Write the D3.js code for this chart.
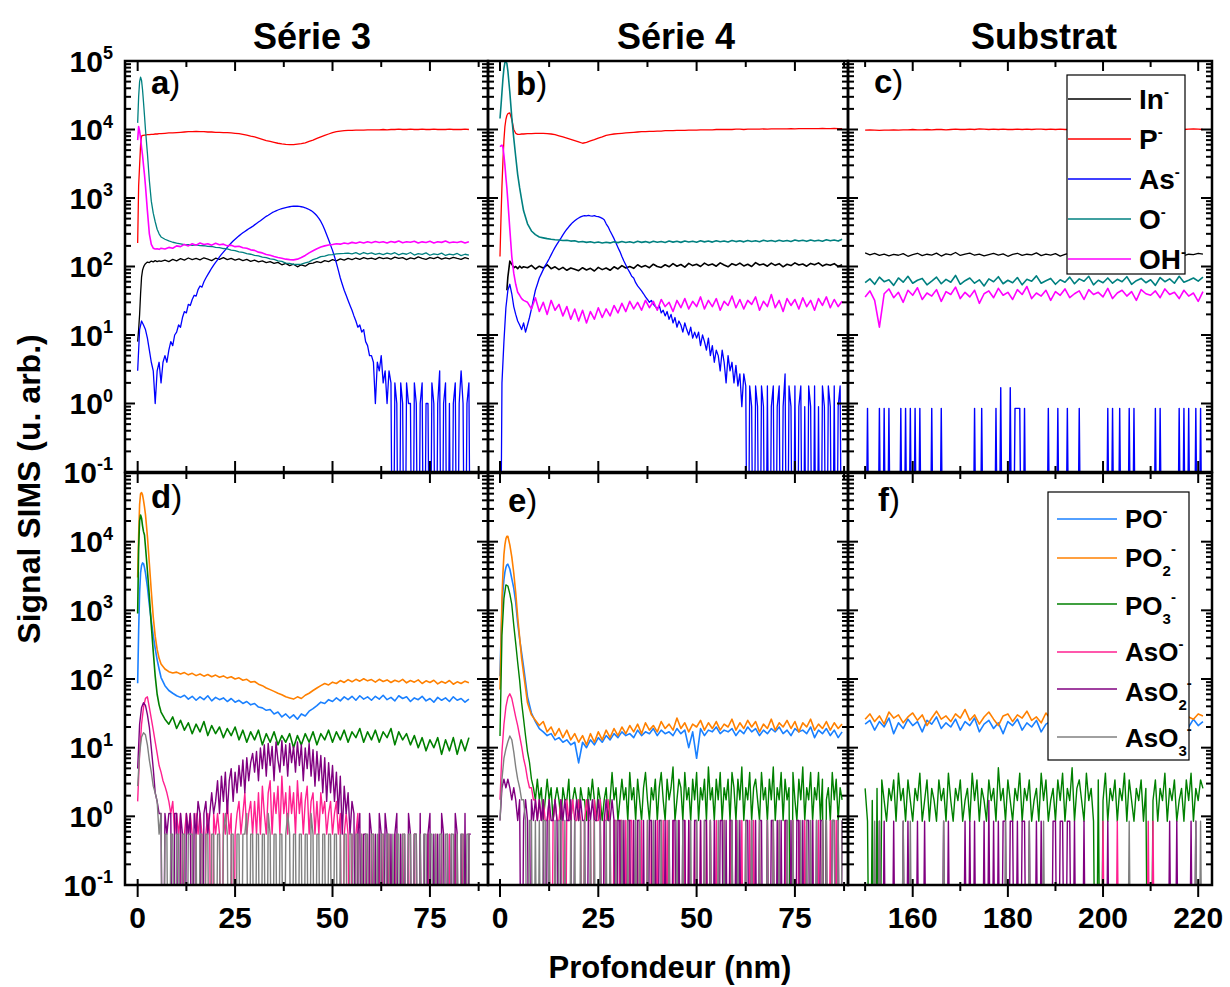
<!DOCTYPE html>
<html>
<head>
<meta charset="utf-8">
<script src="https://cdn.jsdelivr.net/npm/d3@7"></script>
<style>
  body { margin: 0; background: #fff; }
  text { font-family: "Liberation Sans", Arial, Helvetica, sans-serif; }
</style>
</head>
<body>
<svg id="chart" width="1230" height="987"></svg>
<script>
// ---- depth grids (nm) ----
// finer sampling near the surface where the oxide peaks sit
var depthSurface = [0, 0.25, 0.5, 0.75, 1, 1.25, 1.5, 1.75, 2, 2.5, 3, 3.5, 4, 4.5, 5, 5.5, 6];
var depthA = depthSurface.concat(d3.range(7, 86));   // série 3 : 0 .. 85 nm
var depthB = depthSurface.concat(d3.range(7, 88));   // série 4 : 0 .. 87 nm
var depthSub = d3.range(150, 222);                   // substrat : 150 .. 221 nm
// half-nm grids for the low count channels
var stepA = d3.range(0, 86, 0.5);
var stepB = d3.range(0, 87.5, 0.5);
var stepSub = d3.range(150, 221.5, 0.5);

// count units (one detected ion) read from the quantised levels
var unitC = 0.85, unitD = 0.55, unitE = 0.87, unitF = 0.85;

// ---- a) Série 3 ----
var inA = [8, 12, 20, 40, 70, 88, 98, 105, 110, 116, 114, 120, 117, 122, 118, 121, 119,
  124, 118, 127, 121, 130, 124, 133, 126, 131, 125,
  134, 128, 122, 132, 127, 135, 126, 131, 124, 129,
  122, 127, 119, 124, 117, 121, 114, 118, 111, 115,
  106, 111, 103, 108, 99, 106, 101, 110, 112, 118,
  114, 122, 118, 126, 121, 129, 124, 131, 126, 133,
  127, 135, 129, 133, 127, 136, 130, 134, 128, 137,
  131, 135, 126, 134, 129, 138, 131, 127, 135, 130,
  137, 128, 134, 129, 136, 131, 127, 135, 129];
var pA = [220, 1500, 3000, 6000, 8000, 8200, 8200, 8300, 8300, 8400, 8400, 8500, 8500, 8600, 8600, 8700, 8700,
  8800, 8900, 8900, 9000, 9100, 9200, 9300, 9300, 9400, 9300,
  9300, 9200, 9200, 9100, 9100, 9000, 9000, 8900, 8800, 8700,
  8500, 8300, 8000, 7800, 7500, 7200, 6900, 6700, 6500, 6300,
  6150, 6050, 6000, 6000, 6100, 6200, 6400, 6700, 7000, 7400,
  7800, 8200, 8600, 9000, 9300, 9500, 9600, 9700, 9700, 9800,
  9800, 9800, 9900, 9900, 9900, 9900, 10000, 9900, 10000, 10000,
  10100, 10000, 10000, 10100, 10000, 10000, 10100, 10000, 10000, 10100,
  10000, 10000, 10000, 10100, 10000, 10000, 10000, 10100, 10000];
var oA = [12500, 30000, 50000, 58000, 52000, 38000, 25000, 16000, 10000, 4500, 1800, 900, 600, 450, 350, 300, 270,
  250, 236, 226, 219, 214, 209, 208, 204, 207, 202,
  201, 197, 196, 190, 189, 183, 181, 174, 171, 164,
  161, 154, 151, 145, 143, 137, 135, 129, 127, 121,
  119, 112, 111, 107, 107, 108, 113, 117, 126, 131,
  139, 142, 148, 149, 153, 154, 155, 157, 153, 159,
  150, 160, 153, 158, 150, 156, 149, 157, 152, 159,
  148, 155, 151, 160, 147, 154, 150, 158, 146, 153,
  149, 157, 145, 152, 148, 155, 144, 151, 147];
var ohA = [7000, 11000, 9500, 7500, 5500, 4200, 3000, 2200, 1500, 650, 300, 210, 185, 180, 182, 178, 185,
  180, 190, 185, 200, 195, 210, 200, 215, 205, 220,
  210, 215, 205, 218, 208, 212, 200, 205, 195, 198,
  188, 185, 175, 172, 162, 158, 150, 146, 140, 135,
  132, 128, 126, 125, 128, 135, 145, 158, 170, 182,
  192, 200, 206, 210, 215, 212, 220, 215, 225, 218,
  228, 220, 230, 222, 232, 224, 230, 220, 232, 225,
  235, 222, 230, 226, 234, 220, 229, 224, 233, 221,
  230, 225, 235, 222, 228, 224, 232, 220, 230];
var asA = [3, 12, 16, 14, 12, 9, 6, 4, 3, 1, 3, 4, 2, 4, 5, 4, 6, 8, 7, 10,
  11, 14, 13, 18, 22, 21, 28, 27, 33, 38, 37, 46, 52, 50, 60, 68, 76, 85, 95, 105,
  115, 125, 138, 150, 162, 175, 190, 205, 220, 235, 250, 265, 280, 295, 310, 325, 340, 355, 370, 385,
  405, 425, 445, 465, 490, 515, 540, 560, 585, 610, 630, 650, 668, 685, 700, 712, 725, 735, 745, 752,
  758, 760, 758, 752, 745, 735, 720, 700, 680, 655, 625, 590, 550, 505, 455, 400, 345, 290, 245, 205,
  172, 140, 112, 88, 68, 55, 45, 38, 32, 27, 23, 19, 16, 13, 14, 11, 12, 8, 7, 5,
  5, 4, 1, 4, 3, 5, 2, 3, 1, 3, 2, 0, 2, 1, 0, 2, 1, 0, 2, 1,
  1, 0, 2, 1, 0, 1, 2, 0, 1, 1, 0, 2, 1, 0, 1, 3, 0, 1, 2, 0,
  1, 0, 1, 2, 0, 1, 3, 1, 0, 1, 2, 0];

// ---- b) Série 4 ----
var inB = [null, null, null, null, null, null, null, 45, 70, 120, 108, 96, 100, 93, 101, 95, 99,
  96, 104, 92, 101, 95, 106, 93, 99, 90, 97,
  88, 95, 91, 87, 96, 89, 94, 86, 97, 90,
  95, 88, 99, 92, 103, 95, 100, 94, 106, 98,
  103, 96, 108, 100, 97, 106, 99, 110, 101, 107,
  98, 111, 103, 108, 100, 112, 104, 109, 101, 113,
  105, 99, 110, 104, 112, 102, 108, 100, 114, 105,
  109, 101, 112, 104, 110, 99, 108, 103, 113, 105,
  109, 101, 111, 106, 113, 102, 108, 104, 110, 100, 106];
var pB = [140, 500, 1500, 3500, 7000, 11000, 14000, 16000, 17000, 17500, 14000, 10000, 8800, 8500, 8500, 8600, 8600,
  8700, 8700, 8800, 8800, 8800, 8700, 8600, 8400, 8100, 7800,
  7500, 7200, 6900, 6600, 6300, 6500, 6800, 7100, 7500, 7800,
  8200, 8400, 8600, 8700, 8800, 8900, 9000, 9100, 9200, 9300,
  9300, 9400, 9400, 9500, 9500, 9600, 9600, 9600, 9700, 9700,
  9700, 9800, 9800, 9800, 9900, 9900, 9900, 9900, 10000, 10000,
  10000, 10000, 10000, 10100, 10100, 10000, 10100, 10100, 10100, 10100,
  10200, 10100, 10200, 10200, 10200, 10200, 10200, 10300, 10200, 10300,
  10300, 10300, 10300, 10300, 10300, 10400, 10300, 10300, 10400, 10300, 10300];
var oB = [14500, 22000, 35000, 55000, 78000, 95000, 100000, 92000, 72000, 35000, 15000, 7500, 4000, 2200, 1400, 950, 650,
  420, 330, 292, 270, 262, 255, 250, 246, 244, 240,
  242, 235, 238, 228, 232, 225, 230, 222, 228, 220,
  226, 221, 229, 223, 231, 224, 230, 222, 233, 225,
  231, 223, 234, 226, 232, 224, 235, 227, 233, 225,
  236, 228, 234, 226, 237, 229, 235, 227, 238, 230,
  236, 228, 239, 231, 237, 229, 240, 232, 238, 230,
  241, 233, 239, 231, 242, 234, 240, 232, 243, 235,
  241, 233, 244, 236, 242, 234, 245, 237, 243, 235, 250];
var ohB = [5600, 5800, 5900, 5500, 4200, 3000, 2000, 1400, 900, 350, 140, 80, 55, 42, 38, 34, 32,
  30, 24, 35, 22, 30, 20, 32, 23, 28, 19,
  26, 17, 24, 16, 23, 15, 22, 17, 25, 18,
  24, 19, 27, 21, 29, 22, 31, 24, 30, 23,
  32, 25, 31, 23, 33, 26, 30, 22, 32, 25,
  34, 24, 31, 26, 36, 24, 32, 26, 34, 23,
  31, 27, 37, 25, 33, 24, 32, 28, 36, 23,
  31, 26, 39, 25, 32, 22, 34, 27, 33, 24,
  35, 26, 32, 23, 34, 27, 36, 25, 33, 26, 31];
var asB = [0, 2, 8, 25, 45, 55, 40, 26, 20, 16, 14, 12, 15, 11, 14, 18, 24, 33, 45, 55,
  68, 78, 90, 103, 115, 130, 148, 168, 190, 212, 235, 260, 290, 320, 350, 380, 410, 440, 465, 490,
  510, 530, 545, 552, 548, 556, 550, 545, 552, 540, 535, 520, 505, 480, 420, 380, 330, 290, 255, 220,
  190, 165, 140, 120, 105, 92, 82, 72, 68, 58, 52, 48, 44, 40, 36, 33, 30, 32, 28, 26,
  24, 27, 21, 23, 19, 22, 17, 20, 15, 18, 13, 16, 14, 11, 15, 12, 10, 13, 9, 11,
  9, 11, 7, 10, 8, 6, 9, 5, 7, 4, 6, 5, 3, 6, 4, 2, 5, 3, 4, 2,
  3.6, 1.8, 2.7, 0.9, 2.7, 1.8, 0, 1.8, 0.9, 0, 1.8, 0.9, 0, 1.8, 0.9, 0, 1.8, 0, 0.9, 1.8,
  0, 0.9, 1.8, 0, 0.9, 2.7, 0, 1.8, 0.9, 0, 1.8, 0, 0.9, 1.8, 0, 0.9, 0, 1.8, 0.9, 0,
  1.8, 0, 0.9, 0, 1.8, 0.9, 0, 1.8, 0.9, 0, 1.8, 0, 0.9, 1.8, 0];

// ---- c) Substrat ----
var inC = [158, 148, 155, 145, 152, 143, 150, 146, 154, 141,
  149, 156, 144, 151, 147, 157, 142, 153, 148, 160,
  145, 151, 157, 146, 152, 143, 149, 155, 147, 153,
  141, 150, 156, 145, 151, 148, 158, 144, 152, 147,
  154, 142, 150, 157, 146, 153, 148, 155, 143, 151,
  147, 156, 144, 152, 149, 158, 145, 151, 147, 155,
  143, 150, 154, 146, 152, 148, 157, 144, 151, 149,
  156, 152];
var pC = [9800, 9900, 9800, 9700, 9800, 9800, 9900, 9800, 9900, 9900,
  10000, 9900, 9900, 10000, 9900, 10000, 10000, 9900, 10000, 10100,
  10000, 10000, 10100, 10000, 10200, 10100, 10000, 10100, 10000, 10100,
  10000, 10000, 10100, 10000, 10100, 10000, 10100, 10100, 10000, 10100,
  10000, 10100, 10000, 10000, 10100, 10000, 10100, 10000, 10000, 10100,
  10000, 10100, 10000, 10100, 10000, 10100, 10000, 10100, 10100, 10000,
  10100, 10000, 10100, 10000, 10100, 10200, 10100, 10000, 10100, 10200,
  10100, 10000];
var oC = [58, 66, 55, 70, 60, 64, 53, 68, 59, 72,
  57, 63, 67, 54, 61, 70, 56, 65, 59, 74,
  55, 62, 68, 57, 64, 52, 66, 60, 71, 56,
  63, 58, 69, 54, 65, 61, 73, 57, 62, 67,
  55, 64, 59, 70, 56, 66, 61, 72, 54, 63,
  58, 68, 57, 65, 60, 71, 55, 62, 67, 58,
  64, 53, 69, 60, 66, 57, 72, 59, 63, 68,
  61, 70];
var ohC = [36, 44, 32, 13, 40, 47, 35, 42, 30, 45,
  38, 49, 33, 41, 37, 46, 31, 43, 39, 50,
  34, 42, 36, 45, 29, 40, 44, 35, 48, 38,
  42, 33, 46, 39, 51, 34, 41, 37, 45, 32,
  43, 38, 47, 35, 40, 44, 33, 46, 39, 42,
  36, 48, 34, 41, 45, 37, 43, 32, 46, 40,
  38, 44, 35, 47, 39, 42, 34, 45, 37, 41,
  31, 43];
// As- in the substrate: only isolated counts, [depth, counts]
var asCSpikes = [[150.5, 1], [153, 1], [154, 1], [155, 1], [157.5, 1], [158.5, 1], [159.5, 1], [160.5, 1],
  [161.5, 1], [164, 1], [166, 1], [173, 1], [174.5, 1], [177.5, 1], [178.5, 2], [180.5, 2], [181.5, 1],
  [182, 1], [182.5, 1], [183.5, 1], [188.5, 1], [190.5, 1], [192.5, 1], [195, 1], [201, 1],
  [202, 1], [203.5, 1], [205.5, 1], [206.5, 1], [211, 1], [212, 1], [216, 1], [217, 1], [218, 1],
  [219.5, 1], [220.5, 1]];

// ---- d) Série 3, oxides ----
var poD = [87, 500, 1800, 3500, 4500, 4900, 4800, 4200, 3500, 2200, 1200, 700, 430, 280, 190, 140, 105,
  80, 68, 62, 57, 54, 58, 51, 56, 49, 55,
  50, 57, 48, 54, 50, 53, 47, 52, 46, 49,
  44, 47, 42, 44, 39, 38, 35, 36, 31, 33,
  28, 31, 27, 30, 26, 31, 29, 34, 37, 41,
  46, 44, 50, 47, 53, 48, 55, 50, 56, 49,
  57, 51, 55, 49, 56, 51, 58, 50, 54, 48,
  57, 52, 55, 47, 53, 50, 56, 48, 52, 46,
  54, 49, 53, 47, 55, 49, 52, 46, 51];
var po2D = [3000, 12000, 35000, 50000, 52000, 48000, 40000, 32000, 25000, 12000, 4800, 1900, 800, 420, 270, 200, 165,
  140, 128, 122, 126, 118, 124, 115, 121, 112, 118,
  110, 116, 108, 114, 106, 111, 103, 108, 100, 104,
  96, 99, 90, 92, 84, 80, 74, 70, 66, 62,
  59, 55, 53, 51, 55, 52, 58, 62, 68, 74,
  80, 86, 82, 90, 86, 95, 89, 98, 91, 99,
  93, 101, 94, 98, 90, 99, 92, 97, 89, 96,
  91, 99, 88, 95, 90, 97, 86, 94, 89, 96,
  85, 92, 87, 95, 84, 91, 86, 93, 88];
var po3D = [900, 8000, 20000, 24500, 22000, 17000, 14000, 12500, 8500, 3800, 1600, 600, 250, 110, 60, 42, 33,
  26, 22, 28, 19, 25, 18, 23, 16, 22, 17,
  24, 15, 21, 16, 20, 14, 19, 15, 20, 13,
  18, 12, 17, 13, 18, 11, 16, 12, 17, 11,
  15, 12, 16, 10, 15, 11, 16, 12, 17, 11,
  16, 13, 18, 12, 17, 13, 18, 12, 17, 14,
  19, 12, 17, 13, 18, 12, 17, 14, 19, 11,
  17, 13, 16, 11, 15, 10, 14, 9, 13, 10,
  14, 8, 13, 9, 14, 8, 13, 9, 14];
// counts on the half-nm grid
var asoD = [3, 15, 40, 70, 95, 100, 70, 48, 33, 22, 15, 10, 8, 6, 5, 4, 3, 2, 3, 1,
  2, 1, 2, 0, 1, 2, 1, 2, 1, 0, 2, 1, 2, 1, 0, 1, 2, 1, 0, 2,
  1, 2, 1, 0, 2, 1, 3, 1, 2, 0, 1, 2, 3, 1, 2, 4, 1, 2, 3, 1,
  3, 1, 4, 1, 5, 2, 1, 4, 6, 1, 4, 2, 5, 1, 7, 2, 4, 1, 5, 2,
  4, 1, 6, 2, 4, 1, 3, 5, 1, 3, 4, 1, 3, 1, 4, 2, 3, 1, 2, 3,
  1, 2, 3, 1, 2, 0, 1, 2, 1, 0, 1, 0, 1, 2, 0, 1, 0, 1, 0, 1,
  0, 1, 0, 0, 1, 0, 1, 0, 0, 1, 0, 0, 1, 0, 0, 0, 1, 0, 0, 1,
  0, 0, 1, 0, 0, 1, 0, 0, 0, 1, 0, 0, 0, 1, 0, 0, 1, 0, 0, 0,
  1, 0, 0, 1, 0, 0, 0, 1, 0, 0, 1, 0];
var aso2D = [9, 40, 70, 82, 75, 55, 36, 18, 9, 4, 3, 2, 2, 0, 2, 1, 2, 2, 0, 2,
  2, 0, 2, 1, 0, 2, 1, 2, 0, 2, 1, 3, 2, 0, 2, 3, 1, 2, 4, 2,
  3, 6, 2, 7, 3, 8, 2, 6, 9, 3, 8, 4, 10, 5, 12, 4, 13, 6, 11, 15,
  8, 16, 6, 18, 9, 20, 7, 21, 10, 19, 6, 22, 12, 8, 23, 10, 20, 7, 21, 11,
  19, 8, 22, 10, 20, 6, 18, 9, 21, 7, 17, 5, 16, 6, 14, 4, 13, 3, 11, 4,
  10, 3, 8, 2, 7, 1, 5, 2, 4, 1, 3, 2, 0, 1, 2, 0, 1, 1, 0, 2,
  1, 0, 1, 0, 2, 1, 0, 2, 1, 0, 1, 0, 1, 2, 0, 1, 0, 1, 0, 2,
  1, 0, 1, 1, 0, 2, 0, 1, 0, 1, 2, 0, 1, 0, 1, 0, 2, 1, 0, 1,
  0, 1, 0, 2, 1, 0, 1, 0, 2, 0, 1, 1];
var aso3D = [5, 15, 26, 30, 28, 20, 12, 8, 5, 4, 3, 1, 2, 0, 1, 1, 0, 1, 1, 0,
  1, 1, 0, 1, 1, 0, 1, 1, 1, 0, 1, 0, 1, 1, 0, 1, 1, 0, 1, 1,
  0, 1, 1, 0, 1, 2, 1, 0, 1, 1, 0, 1, 1, 0, 1, 1, 2, 0, 1, 1,
  0, 1, 1, 0, 1, 1, 0, 2, 1, 0, 1, 1, 0, 1, 1, 0, 1, 2, 1, 0,
  1, 1, 0, 1, 1, 0, 1, 1, 0, 2, 1, 0, 1, 1, 0, 1, 1, 0, 1, 1,
  0, 1, 1, 0, 1, 0, 1, 1, 0, 1, 1, 0, 1, 1, 0, 1, 0, 1, 1, 0,
  1, 1, 0, 1, 0, 1, 1, 0, 1, 1, 0, 1, 0, 1, 1, 0, 1, 1, 0, 1,
  1, 0, 1, 1, 0, 1, 0, 1, 1, 0, 1, 1, 0, 1, 0, 1, 1, 0, 1, 1,
  0, 1, 1, 0, 1, 0, 1, 1, 0, 1, 1, 0];

// ---- e) Série 4, oxides ----
var poE = [110, 400, 1000, 1900, 2800, 3600, 4200, 4600, 4700, 4000, 2900, 2100, 1300, 650, 380, 240, 150,
  55, 32, 24, 19, 17, 15, 16, 13, 14, 12,
  13, 11, 12, 6, 12, 10, 13, 11, 14, 12,
  15, 13, 16, 14, 17, 15, 16, 14, 18, 15,
  17, 16, 19, 15, 18, 16, 17, 15, 19, 16,
  18, 10, 17, 7, 19, 15, 18, 17, 20, 16,
  18, 17, 19, 15, 18, 16, 20, 17, 19, 15,
  18, 16, 19, 17, 20, 16, 18, 15, 19, 17,
  18, 16, 20, 14, 18, 16, 19, 15, 18, 14, 17];
var po2E = [70, 300, 1500, 3500, 6500, 9000, 11000, 12000, 12000, 9000, 6000, 3500, 1800, 800, 400, 200, 120,
  45, 30, 25, 21, 24, 17, 20, 15, 19, 14,
  18, 13, 16, 12, 15, 11, 16, 12, 17, 13,
  18, 14, 19, 15, 20, 16, 21, 17, 22, 16,
  23, 18, 21, 17, 24, 19, 22, 18, 27, 19,
  23, 17, 22, 20, 25, 18, 23, 19, 24, 18,
  22, 20, 26, 18, 23, 19, 25, 20, 24, 17,
  22, 19, 26, 18, 23, 20, 25, 19, 24, 17,
  23, 20, 26, 18, 22, 19, 24, 18, 23, 19, 22];
var po3E = [17, 500, 1700, 2700, 2600, 2000, 1400, 700, 380, 200, 110, 52, 30, 17, 10, 7, 4, 3, 2, 4,
  2, 3, 1, 2, 4, 2, 3, 1, 2, 3, 2, 1, 3, 2, 2, 4, 1, 2, 3, 2,
  1, 3, 2, 2, 1, 3, 2, 4, 2, 1, 3, 2, 1, 2, 3, 1, 2, 5, 2, 3,
  1, 2, 4, 2, 3, 1, 5, 2, 3, 1, 4, 2, 1, 3, 5, 2, 1, 3, 2, 4,
  1, 3, 5, 2, 1, 4, 2, 3, 6, 1, 2, 4, 3, 1, 5, 2, 3, 1, 4, 2,
  5, 1, 3, 2, 4, 1, 6, 2, 3, 1, 4, 2, 5, 1, 3, 2, 4, 1, 5, 3,
  1, 4, 2, 6, 1, 3, 2, 5, 1, 3, 4, 2, 1, 5, 2, 3, 1, 4, 2, 6,
  1, 3, 2, 5, 1, 4, 2, 3, 0, 5, 2, 1, 4, 2, 6, 1, 3, 2, 5, 1,
  3, 2, 5, 1, 4, 0, 2, 3, 1, 5, 2, 4, 1, 3, 2];
var asoE = [2, 10, 25, 45, 62, 70, 60, 44, 32, 24, 17, 12, 8, 6, 4, 3, 3, 2, 2, 1,
  2, 1, 2, 1, 1, 2, 0, 1, 2, 1, 1, 2, 1, 0, 2, 1, 1, 2, 1, 1,
  2, 1, 0, 1, 2, 1, 1, 0, 2, 1, 1, 2, 0, 1, 1, 2, 1, 0, 1, 1,
  0, 1, 1, 0, 1, 0, 1, 1, 0, 0, 1, 0, 1, 0, 0, 1, 0, 1, 0, 0,
  1, 0, 0, 1, 0, 1, 0, 0, 1, 0, 0, 1, 0, 0, 1, 0, 1, 0, 0, 1,
  0, 0, 1, 0, 0, 1, 0, 1, 0, 0, 1, 0, 0, 0, 1, 0, 0, 1, 0, 0,
  1, 0, 0, 1, 0, 0, 0, 1, 0, 1, 0, 0, 1, 0, 0, 0, 1, 0, 0, 1,
  0, 0, 1, 0, 0, 1, 0, 0, 0, 1, 0, 0, 1, 0, 0, 1, 0, 0, 0, 1,
  0, 0, 1, 0, 1, 0, 0, 0, 1, 0, 0, 1, 0, 0, 0];
var aso2E = [1, 3, 4, 3, 4, 3, 2, 3, 2, 1, 2, 0, 1, 2, 1, 0, 2, 1, 2, 1,
  2, 1, 2, 0, 1, 2, 1, 1, 2, 1, 0, 2, 1, 2, 1, 1, 2, 0, 1, 2,
  1, 2, 1, 1, 0, 2, 1, 2, 1, 1, 2, 1, 0, 1, 2, 1, 1, 2, 1, 0,
  1, 1, 0, 1, 0, 1, 1, 0, 1, 0, 1, 1, 0, 1, 0, 0, 1, 1, 0, 1,
  0, 1, 1, 0, 1, 0, 1, 0, 1, 1, 0, 1, 0, 1, 1, 0, 1, 0, 0, 1,
  1, 0, 1, 0, 1, 1, 0, 1, 0, 1, 0, 0, 1, 1, 0, 1, 0, 1, 1, 0,
  1, 0, 1, 0, 0, 1, 1, 0, 1, 0, 1, 0, 1, 1, 0, 0, 1, 0, 1, 1,
  0, 1, 0, 1, 0, 1, 1, 0, 1, 0, 0, 1, 1, 0, 1, 0, 1, 1, 0, 1,
  0, 1, 0, 1, 1, 0, 1, 0, 0, 1, 1, 0, 1, 0, 1];
var aso3E = [1, 4, 8, 11, 14, 17, 15, 10, 6, 4, 3, 2, 2, 1, 0, 1, 1, 0, 1, 0,
  1, 0, 1, 1, 0, 1, 0, 0, 1, 0, 1, 1, 0, 1, 0, 0, 1, 0, 1, 0,
  0, 1, 0, 1, 0, 0, 1, 0, 1, 0, 0, 1, 0, 0, 1, 0, 1, 0, 0, 1,
  0, 0, 1, 0, 0, 1, 0, 0, 0, 1, 0, 1, 0, 0, 0, 1, 0, 0, 1, 0,
  0, 0, 1, 0, 0, 0, 1, 0, 0, 0, 1, 0, 0, 1, 0, 0, 0, 1, 0, 0,
  1, 0, 0, 0, 1, 0, 0, 1, 0, 0, 0, 1, 0, 0, 1, 0, 0, 0, 1, 0,
  0, 1, 0, 0, 0, 1, 0, 0, 1, 0, 0, 0, 1, 0, 0, 0, 1, 0, 0, 1,
  0, 0, 1, 0, 0, 0, 1, 0, 0, 1, 0, 0, 0, 1, 0, 0, 1, 0, 1, 0,
  0, 1, 0, 0, 1, 0, 1, 0, 0, 1, 1, 0, 1, 0, 1];

// ---- f) Substrat, oxides ----
var poF = [22, 25, 18, 24, 20, 27, 16, 23, 19, 26,
  21, 24, 17, 25, 22, 28, 19, 23, 20, 26,
  18, 24, 21, 27, 17, 22, 25, 19, 23, 16,
  24, 21, 26, 18, 23, 20, 25, 17, 22, 24,
  19, 26, 21, 23, 15, 25, 20, 22, 18, 24,
  21, 27, 19, 23, 17, 25, 22, 20, 24, 18,
  26, 21, 23, 19, 25, 17, 22, 24, 20, 26,
  21, 24];
var po2F = [26, 31, 24, 29, 22, 33, 27, 30, 23, 28,
  32, 25, 30, 21, 27, 34, 26, 29, 24, 31,
  27, 36, 25, 30, 22, 28, 33, 26, 21, 29,
  31, 24, 30, 27, 34, 25, 28, 23, 32, 26,
  29, 24, 31, 27, 33, 25, 28, 22, 30, 26,
  32, 24, 29, 27, 35, 25, 30, 23, 28, 31,
  26, 29, 24, 32, 27, 30, 25, 33, 28, 26,
  31, 29];
var po3F = [3, 1, 0, 2, 0, 3, 0, 4, 2, 1, 3, 2, 4, 1, 5, 2, 3, 1, 4, 2,
  1, 3, 2, 5, 1, 2, 4, 1, 3, 2, 1, 4, 2, 3, 1, 5, 2, 1, 3, 2,
  4, 1, 2, 3, 1, 5, 2, 4, 1, 3, 2, 1, 4, 2, 3, 1, 6, 2, 3, 1,
  4, 2, 1, 3, 2, 5, 1, 3, 2, 4, 1, 2, 3, 1, 5, 2, 4, 1, 2, 3,
  1, 4, 2, 5, 1, 3, 2, 6, 1, 3, 4, 2, 1, 5, 2, 3, 1, 0, 4, 0,
  2, 5, 1, 3, 2, 4, 1, 3, 2, 5, 1, 4, 2, 1, 3, 2, 4, 1, 3, 0,
  0, 2, 4, 1, 3, 2, 5, 1, 3, 2, 4, 1, 2, 3, 1, 4, 2, 5, 1, 3,
  2, 4, 3];
var asoFSpikes = [[200, 1], [203, 1], [209.5, 1], [210.5, 1]];
var aso2FSpikes = [[153, 1], [154, 1], [156, 1], [158, 1], [159, 1], [161, 1], [162.5, 1], [166.5, 1],
  [167.5, 1], [171, 1], [172, 1], [173, 1], [175, 1], [176, 2], [177, 1], [178, 1], [179, 1], [179.5, 1],
  [180.5, 1], [181, 1], [182, 1], [183, 1], [183.5, 1], [184.5, 1], [186, 1], [187, 1], [189.5, 1], [190, 1],
  [191, 1], [191.5, 1], [192.5, 1], [193, 1], [194, 1], [196, 1], [201, 1], [214, 1], [215.5, 1], [218.5, 1],
  [219.5, 1]];
var aso3FSpikes = [[152, 1], [153, 1], [158, 1], [159.5, 1], [166.5, 1], [179.5, 1], [184.5, 1], [187.5, 1],
  [205.5, 1], [219.5, 1], [220.5, 1]];

// ---- styling ----
var colors = {
  In: '#000000', P: '#ff0000', As: '#0000ff', O: '#008080', OH: '#ff00ff',
  PO: '#1a80ff', PO2: '#ff8000', PO3: '#008000', AsO: '#ff2090', AsO2: '#800080', AsO3: '#808080'
};
var FLOOR = 1e-4;   // zero counts drop out of the log axis

var svg = d3.select('#chart');

var cols = [
  { x0: 125, x1: 488, domain: [-3.25, 89.9], major: [0, 25, 50, 75], minor: [12.5, 37.5, 62.5, 87.5] },
  { x0: 488, x1: 848, domain: [-3.05, 88.5], major: [0, 25, 50, 75], minor: [12.5, 37.5, 62.5, 87.5] },
  { x0: 848, x1: 1212, domain: [146.4, 222.9], major: [160, 180, 200, 220], minor: [150, 170, 190, 210] }
];
var rows = [{ y0: 61, y1: 472 }, { y0: 473, y1: 885 }];

function expandSpikes(grid, spikes) {
  var m = new Map(spikes.map(function(s) { return [s[0], s[1]]; }));
  return grid.map(function(v) { return m.get(v) || 0; });
}

function drawPanel(ci, ri, name, series, labelPos) {
  var col = cols[ci], row = rows[ri];
  var x = d3.scaleLinear().domain(col.domain).range([col.x0, col.x1]);
  var y = d3.scaleLog().domain([0.1, 1e5]).range([row.y1, row.y0]);

  svg.append('clipPath').attr('id', 'clip-' + name)
    .append('rect').attr('x', col.x0).attr('y', row.y0)
    .attr('width', col.x1 - col.x0).attr('height', row.y1 - row.y0);

  var g = svg.append('g').attr('clip-path', 'url(#clip-' + name + ')');
  var line = d3.line()
    .defined(function(d) { return d[0] != null && d[1] != null; })
    .x(function(d) { return x(d[0]); })
    .y(function(d) { return y(Math.max(d[1], FLOOR)); });

  series.forEach(function(s) {
    var unit = s.unit || 1;
    var pts = s.values.map(function(v, i) {
      return [s.depth[i], v == null ? null : v * unit];
    });
    g.append('path').datum(pts)
      .attr('d', line)
      .attr('fill', 'none')
      .attr('stroke', colors[s.key])
      .attr('stroke-width', s.width || 1.3)
      .attr('stroke-linejoin', 'round');
  });

  // ticks, all pointing into the frame
  var t = svg.append('g').attr('stroke', '#000').attr('stroke-width', 2);
  function tick(x1, y1, x2, y2) {
    t.append('line').attr('x1', x1).attr('y1', y1).attr('x2', x2).attr('y2', y2);
  }
  col.major.forEach(function(v) {
    tick(x(v), row.y0, x(v), row.y0 + 10);
    if (ri == 0) tick(x(v), row.y1, x(v), row.y1 - 11);
    else tick(x(v), row.y1 - 6, x(v), row.y1 + 12);
  });
  col.minor.forEach(function(v) {
    tick(x(v), row.y0, x(v), row.y0 + 6);
    if (ri == 0) tick(x(v), row.y1, x(v), row.y1 - 6);
    else tick(x(v), row.y1 - 3, x(v), row.y1 + 6);
  });
  for (var e = -1; e <= 5; e++) {
    var yy = y(Math.pow(10, e));
    tick(col.x0, yy, col.x0 + 10, yy);
    tick(col.x1 - 11, yy, col.x1, yy);
    if (e < 5) {
      for (var k = 2; k <= 9; k++) {
        var ym = y(k * Math.pow(10, e));
        tick(col.x0, ym, col.x0 + 6, ym);
        tick(col.x1 - 6, ym, col.x1, ym);
      }
    }
  }

  svg.append('rect')
    .attr('x', col.x0).attr('y', row.y0)
    .attr('width', col.x1 - col.x0).attr('height', row.y1 - row.y0)
    .attr('fill', 'none').attr('stroke', '#000').attr('stroke-width', 2.5);

  // y tick labels on the left column only
  if (ci == 0) {
    var top = ri == 0 ? 5 : 4;
    for (var ex = -1; ex <= top; ex++) {
      var ly = y(Math.pow(10, ex));
      var lab = svg.append('text')
        .attr('x', 113).attr('y', ly + 10.5)
        .attr('text-anchor', 'end')
        .attr('font-size', 30).attr('font-weight', 'bold');
      lab.append('tspan').text('10');
      lab.append('tspan').attr('dy', -12.5).attr('font-size', 18).text(ex);
    }
  }
  // x tick labels under the bottom row
  if (ri == 1) {
    col.major.forEach(function(v) {
      svg.append('text')
        .attr('x', x(v)).attr('y', 928)
        .attr('text-anchor', 'middle')
        .attr('font-size', 30).attr('font-weight', 'bold')
        .text(v);
    });
  }

  var pl = svg.append('text')
    .attr('x', labelPos[0]).attr('y', labelPos[1])
    .attr('font-size', 33);
  pl.append('tspan').attr('font-weight', 'bold').text(name);
  pl.append('tspan').text(')');
}

var noisy = 1.6, counts = 1.4;

drawPanel(0, 0, 'a', [
  { key: 'In', depth: depthA, values: inA },
  { key: 'P', depth: depthA, values: pA },
  { key: 'As', depth: stepA, values: asA },
  { key: 'O', depth: depthA, values: oA },
  { key: 'OH', depth: depthA, values: ohA, width: noisy }
], [151, 94]);

drawPanel(1, 0, 'b', [
  { key: 'In', depth: depthB, values: inB, width: noisy },
  { key: 'P', depth: depthB, values: pB },
  { key: 'As', depth: stepB, values: asB },
  { key: 'O', depth: depthB, values: oB, width: noisy },
  { key: 'OH', depth: depthB, values: ohB, width: noisy }
], [516, 95]);

drawPanel(2, 0, 'c', [
  { key: 'In', depth: depthSub, values: inC },
  { key: 'P', depth: depthSub, values: pC },
  { key: 'As', depth: stepSub, values: expandSpikes(stepSub, asCSpikes), unit: unitC, width: counts },
  { key: 'O', depth: depthSub, values: oC, width: noisy },
  { key: 'OH', depth: depthSub, values: ohC, width: noisy }
], [874, 93]);

drawPanel(0, 1, 'd', [
  { key: 'PO', depth: depthA, values: poD, width: noisy },
  { key: 'PO2', depth: depthA, values: po2D, width: noisy },
  { key: 'PO3', depth: depthA, values: po3D, width: noisy },
  { key: 'AsO', depth: stepA, values: asoD, unit: unitD, width: counts },
  { key: 'AsO2', depth: stepA, values: aso2D, unit: unitD, width: counts },
  { key: 'AsO3', depth: stepA, values: aso3D, unit: unitD, width: counts }
], [151, 508]);

drawPanel(1, 1, 'e', [
  { key: 'PO', depth: depthB, values: poE, width: noisy },
  { key: 'PO2', depth: depthB, values: po2E, width: noisy },
  { key: 'PO3', depth: stepB, values: po3E, unit: unitE, width: counts },
  { key: 'AsO', depth: stepB, values: asoE, unit: unitE, width: counts },
  { key: 'AsO2', depth: stepB, values: aso2E, unit: unitE, width: counts },
  { key: 'AsO3', depth: stepB, values: aso3E, unit: unitE, width: counts }
], [508, 512]);

drawPanel(2, 1, 'f', [
  { key: 'PO', depth: depthSub, values: poF, width: noisy },
  { key: 'PO2', depth: depthSub, values: po2F, width: noisy },
  { key: 'PO3', depth: stepSub, values: po3F, unit: unitF, width: counts },
  { key: 'AsO', depth: stepSub, values: expandSpikes(stepSub, asoFSpikes), unit: unitF, width: counts },
  { key: 'AsO2', depth: stepSub, values: expandSpikes(stepSub, aso2FSpikes), unit: unitF, width: counts },
  { key: 'AsO3', depth: stepSub, values: expandSpikes(stepSub, aso3FSpikes), unit: unitF, width: counts }
], [878, 511]);

// ---- legends ----
function legend(box, items) {
  var g = svg.append('g');
  g.append('rect').attr('x', box.x).attr('y', box.y).attr('width', box.w).attr('height', box.h)
    .attr('fill', '#fff').attr('stroke', '#000').attr('stroke-width', 1.2);
  items.forEach(function(it) {
    g.append('line').attr('x1', box.lx0).attr('x2', box.lx1).attr('y1', it.y).attr('y2', it.y)
      .attr('stroke', colors[it.key]).attr('stroke-width', 1.5);
    var t = g.append('text').attr('x', box.tx).attr('y', it.base)
      .attr('font-size', box.fs).attr('font-weight', 'bold');
    t.append('tspan').text(it.text);
    if (it.sub) {
      t.append('tspan').attr('dy', 9).attr('font-size', 15).text(it.sub);
      t.append('tspan').attr('dy', -22).attr('font-size', 15).text('-');
    } else {
      t.append('tspan').attr('dy', -12).attr('font-size', 15).text('-');
    }
  });
}

legend({ x: 1067, y: 75, w: 118, h: 199, lx0: 1068, lx1: 1131, tx: 1139, fs: 28 }, [
  { key: 'In', text: 'In', y: 99, base: 109 },
  { key: 'P', text: 'P', y: 139, base: 149 },
  { key: 'As', text: 'As', y: 179, base: 189 },
  { key: 'O', text: 'O', y: 219, base: 229 },
  { key: 'OH', text: 'OH', y: 259, base: 269 }
]);

legend({ x: 1048, y: 492, w: 141, h: 268, lx0: 1057, lx1: 1117, tx: 1125, fs: 26 }, [
  { key: 'PO', text: 'PO', y: 519, base: 528 },
  { key: 'PO2', text: 'PO', sub: '2', y: 558, base: 567 },
  { key: 'PO3', text: 'PO', sub: '3', y: 604, base: 615 },
  { key: 'AsO', text: 'AsO', y: 652, base: 661 },
  { key: 'AsO2', text: 'AsO', sub: '2', y: 689, base: 701 },
  { key: 'AsO3', text: 'AsO', sub: '3', y: 737, base: 747 }
]);

// ---- titles ----
[['Série 3', 312], ['Série 4', 676], ['Substrat', 1044]].forEach(function(d) {
  svg.append('text').attr('x', d[1]).attr('y', 49)
    .attr('text-anchor', 'middle').attr('font-size', 36).attr('font-weight', 'bold')
    .text(d[0]);
});

svg.append('text').attr('x', 670).attr('y', 978)
  .attr('text-anchor', 'middle').attr('font-size', 31).attr('font-weight', 'bold')
  .text('Profondeur (nm)');

svg.append('text')
  .attr('transform', 'translate(40,489) rotate(-90)')
  .attr('text-anchor', 'middle').attr('font-size', 32).attr('font-weight', 'bold')
  .text('Signal SIMS (u. arb.)');
</script>
</body>
</html>
